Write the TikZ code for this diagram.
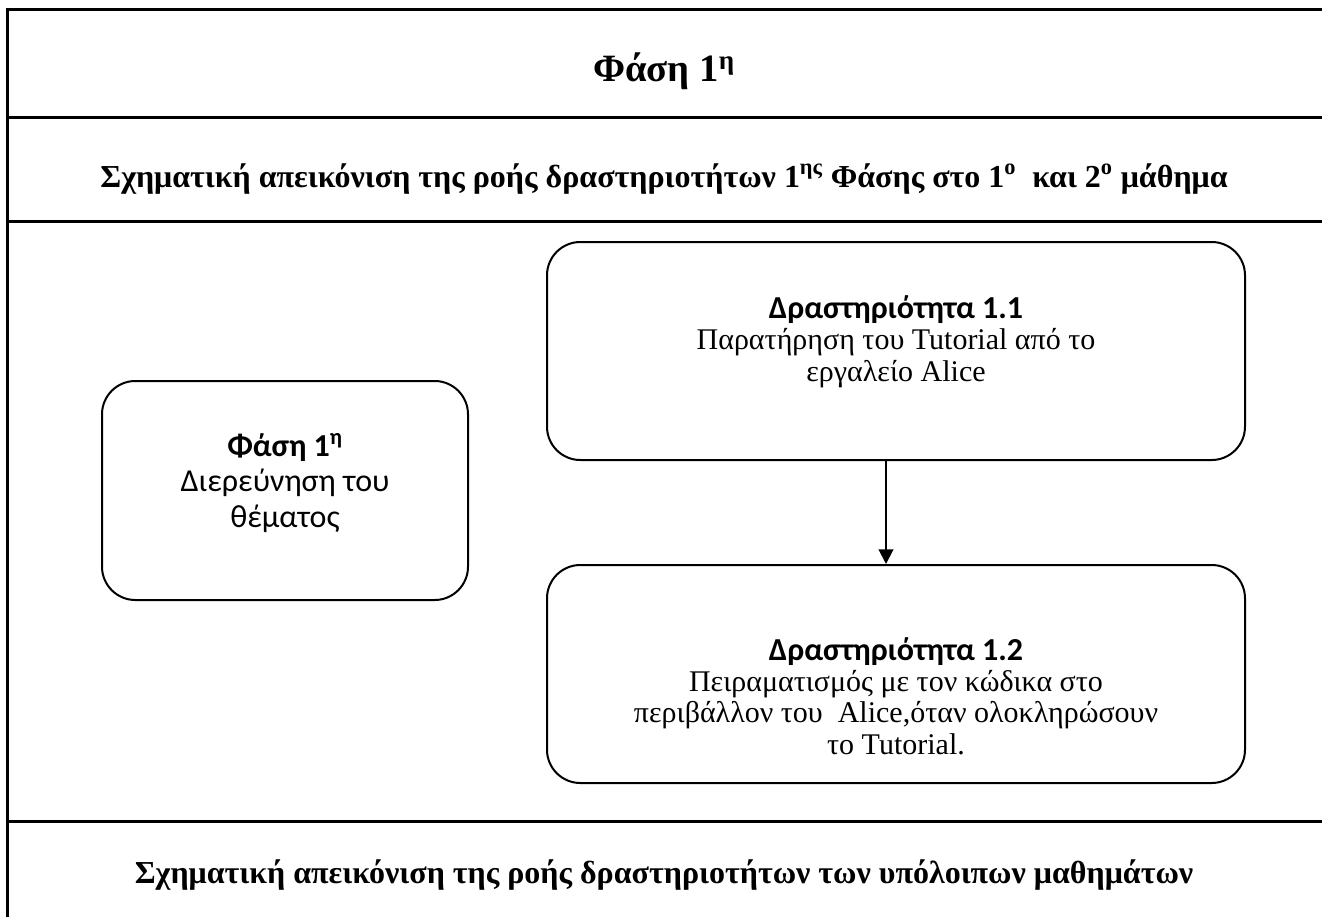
\documentclass[tikz,border=0pt]{standalone}
\usepackage{fontspec}
\setmainfont{Liberation Serif}
\newfontfamily\calibrifont{Carlito}
\usetikzlibrary{arrows.meta,positioning}

\begin{document}
\begin{tikzpicture}[x=.75pt,y=-.75pt,line width=1.5pt,
    tabline/.style={line width=2.25pt},
    headtext/.style={font=\bfseries\fontsize{29}{32}\selectfont},
    rowtext/.style={font=\bfseries\fontsize{24}{27}\selectfont},
    phasebox/.style={draw,rounded corners=25pt,inner sep=0pt},
    boxtext/.style={align=center,inner sep=0pt,font=\fontsize{22.5}{23.3}\selectfont},
    flow/.style={-{Triangle[width=11pt,length=11pt]}}]
  \useasboundingbox (0,0) rectangle (1322,917);
  \coordinate (tl) at (7,10);
  \coordinate (tr) at (1322,10);
  \coordinate (bl) at (7,917);
  \coordinate (r1l) at (7,118);
  \coordinate (r1r) at (1322,118);
  \coordinate (r2l) at (7,221);
  \coordinate (r2r) at (1322,221);
  \coordinate (r3l) at (7,821);
  \coordinate (r3r) at (1322,821);
  % table frame
  \draw[tabline] (tr)--(tl)--(bl);
  \draw[tabline] (r1l)--(r1r);
  \draw[tabline] (r2l)--(r2r);
  \draw[tabline] (r3l)--(r3r);
  % rows
  \node[headtext,anchor=base] (title) at (664,82) {Φάση 1\textsuperscript{η}};
  \node[rowtext,anchor=base] (flow1) at (664,187)
    {Σχηματική απεικόνιση της ροής δραστηριοτήτων 1\textsuperscript{ης} Φάσης στο 1\textsuperscript{ο}\ \ και 2\textsuperscript{ο} μάθημα};
  \node[rowtext,anchor=base] (flow2) at (664,883)
    {Σχηματική απεικόνιση της ροής δραστηριοτήτων των υπόλοιπων μαθημάτων};
  % boxes
  \node[phasebox,minimum width=274.5pt,minimum height=164.25pt] (phase) at (285,490.5) {};
  \node[phasebox,minimum width=523.5pt,minimum height=163.5pt] (act1) at (896,351) {};
  \node[phasebox,minimum width=523.5pt,minimum height=163.5pt] (act2) at (896,674) {};
  \node[boxtext,anchor=base,font=\calibrifont\fontsize{24}{26.5}\selectfont] (phasetxt) at (285,527)
    {\textbf{Φάση 1\textsuperscript{η}}\\Διερεύνηση του\\θέματος};
  \node[boxtext,anchor=base] (act1txt) at (896,381)
    {{\calibrifont\bfseries\fontsize{24}{24}\selectfont Δραστηριότητα 1.1}\\Παρατήρηση του Tutorial από το\\εργαλείο Alice};
  \node[boxtext,anchor=base] (act2txt) at (896,754)
    {{\calibrifont\bfseries\fontsize{24}{24}\selectfont Δραστηριότητα 1.2}\\Πειραματισμός με τον κώδικα στο\\περιβάλλον του\ \ Alice,όταν ολοκληρώσουν\\το Tutorial.};
  \draw[flow] ([xshift=-7.5pt]act1.south)--([xshift=-7.5pt]act2.north);
\end{tikzpicture}
\end{document}
